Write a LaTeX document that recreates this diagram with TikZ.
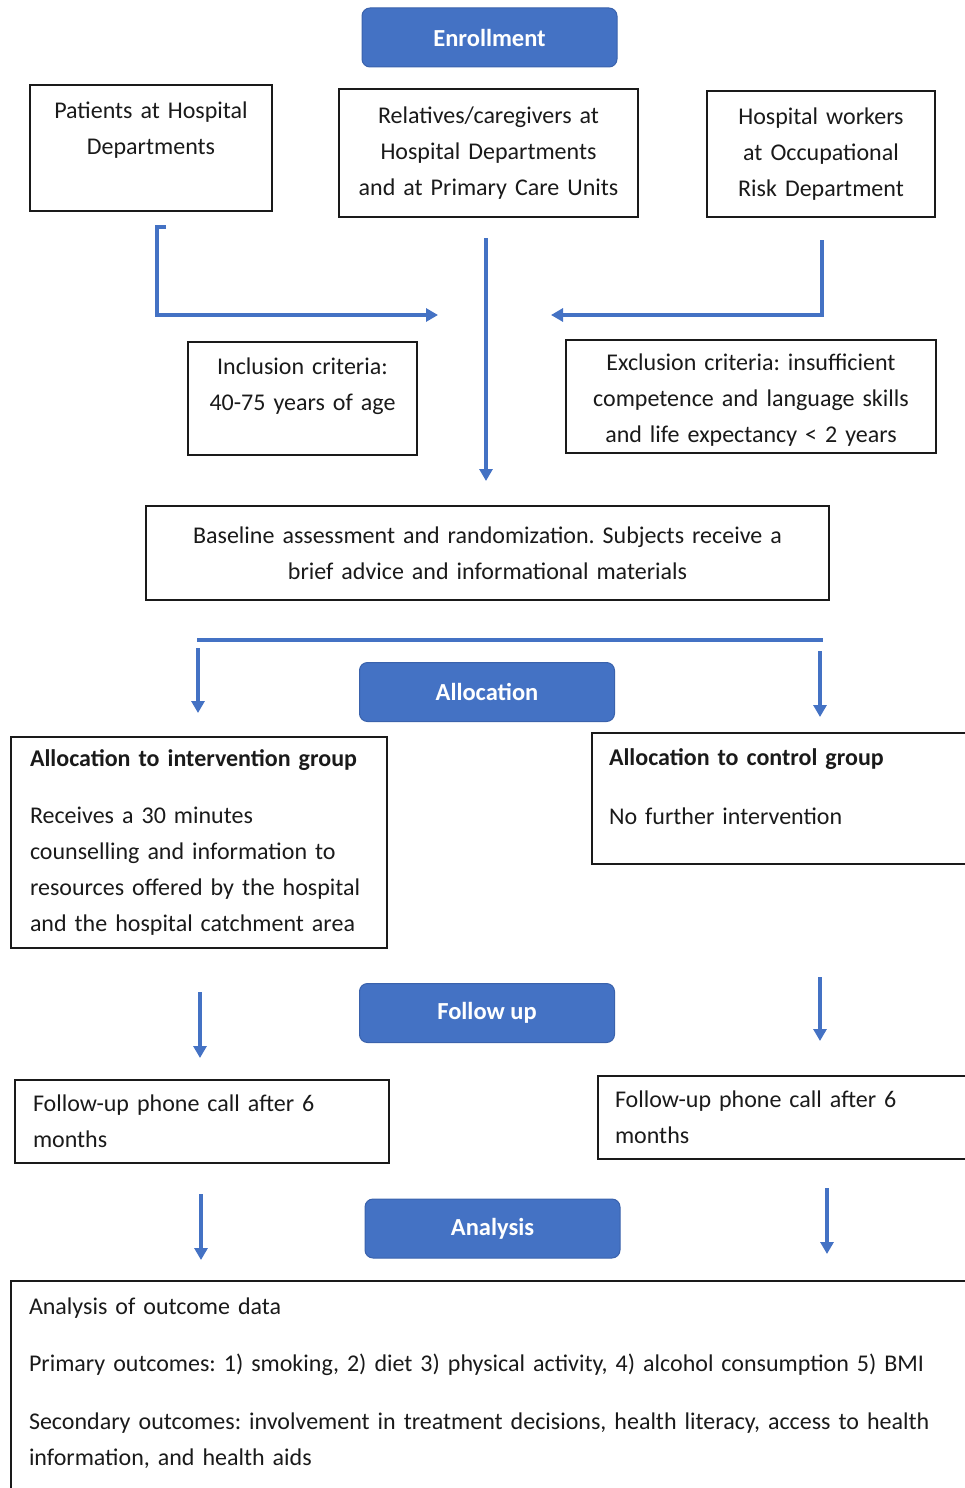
\documentclass[tikz,border=0pt]{standalone}
\usepackage{fontspec}
\setmainfont{Carlito}
\usetikzlibrary{positioning,arrows.meta,calc}
\definecolor{flowblue}{HTML}{4472C4}
\definecolor{phaseedge}{HTML}{3A62AC}
\definecolor{ink}{HTML}{1A1A1A}
\newcommand{\padbelow}[1]{\rule[-#1pt]{0pt}{#1pt}}
\newcommand{\padabove}[1]{\rule{0pt}{#1pt}}
\frenchspacing

\begin{document}
\begin{tikzpicture}[x=1pt, y=-1pt, font=\fontsize{24}{36}\selectfont,
    phase/.style={fill=flowblue, draw=phaseedge, line width=1pt, rounded corners=8pt,
      text=white, font=\fontsize{24.5}{36}\selectfont\bfseries, minimum width=255, minimum height=59},
    infobox/.style={draw=ink, line width=1.6pt, align=center, inner sep=0pt, text=ink},
    leftbox/.style={infobox, align=left},
    flow/.style={draw=flowblue, line width=3.5pt, -{Triangle[length=12pt,width=13pt]}},
    split/.style={draw=flowblue, line width=3.5pt}]
  \useasboundingbox (0,0) rectangle (964,1488);

  % Enrollment
  \node[phase] (enroll) at (489.5,37.5) {Enrollment};
  \node[infobox, minimum width=242, minimum height=126, text width=236] (patients) at (151,148)
    {Patients at Hospital\\Departments\padbelow{40}};
  \node[infobox, minimum width=299, minimum height=128, text width=293] (relatives) at (488.5,153)
    {Relatives/caregivers at\\Hospital Departments\\and at Primary Care Units};
  \node[infobox, minimum width=228, minimum height=126, text width=222] (workers) at (821,154)
    {Hospital workers\\at Occupational\\Risk Department};

  % merging arrows
  \coordinate (pstart) at (166,227);
  \coordinate (pbend) at (157,315);
  \coordinate (ptip) at (438,315);
  \coordinate (rstart) at (486,238);
  \coordinate (rtip) at (486,481);
  \coordinate (wstart) at (822,240);
  \coordinate (wtip) at (551,315);
  \draw[flow] (pstart) -| (pbend) -- (ptip);
  \draw[flow] (rstart) -- (rtip);
  \draw[flow] (wstart) |- (wtip);

  % criteria
  \node[infobox, minimum width=229, minimum height=113, text width=223] (incl) at (302.5,398.5)
    {Inclusion criteria:\\40-75 years of age\padbelow{28}};
  \node[infobox, minimum width=370, minimum height=113, text width=364] (excl) at (751,396.5)
    {\padabove{24}Exclusion criteria: insufficient\\competence and language skills\\and life expectancy < 2 years};
  \node[infobox, minimum width=683, minimum height=94, text width=675] (baseline) at (487.5,553)
    {Baseline assessment and randomization. Subjects receive a\\brief advice and informational materials};

  % Allocation
  \coordinate (sl) at (197,640);
  \coordinate (sr) at (823,640);
  \draw[split] (sl) -- (sr);
  \coordinate (a1) at (198,648);
  \coordinate (a1t) at (198,713);
  \coordinate (a2) at (820,651);
  \coordinate (a2t) at (820,717);
  \draw[flow] (a1) -- (a1t);
  \draw[flow] (a2) -- (a2t);
  \node[phase] (alloc) at (487,692) {Allocation};
  \node[leftbox, minimum width=376, minimum height=211, text width=338] (interv) at (199,842.5)
    {\textbf{Allocation to intervention group}\\[21pt]
     Receives a 30 minutes\\counselling and information to\\resources offered by the hospital\\and the hospital catchment area};
  \node[leftbox, minimum width=408, minimum height=131, text width=374] (control) at (796,798.5)
    {\textbf{Allocation to control group}\\[23pt]
     No further intervention\padbelow{24}};

  % Follow up
  \coordinate (f1) at (200,992);
  \coordinate (f1t) at (200,1058);
  \coordinate (f2) at (820,977);
  \coordinate (f2t) at (820,1041);
  \draw[flow] (f1) -- (f1t);
  \draw[flow] (f2) -- (f2t);
  \node[phase] (follow) at (487,1013) {Follow up};
  \node[leftbox, minimum width=374, minimum height=83, text width=338] (callA) at (202,1121.5)
    {Follow-up phone call after 6\\months};
  \node[leftbox, minimum width=402, minimum height=83, text width=368] (callB) at (799,1117.5)
    {Follow-up phone call after 6\\months};

  % Analysis
  \coordinate (n1) at (201,1194);
  \coordinate (n1t) at (201,1260);
  \coordinate (n2) at (827,1188);
  \coordinate (n2t) at (827,1254);
  \draw[flow] (n1) -- (n1t);
  \draw[flow] (n2) -- (n2t);
  \node[phase] (analysis) at (492.5,1228.5) {Analysis};
  \node[leftbox, minimum width=999, minimum height=239, text width=963] (outcome) at (510.5,1400.5)
    {Analysis of outcome data\\[21pt]
     Primary outcomes: 1) smoking, 2) diet 3) physical activity, 4) alcohol consumption 5) BMI\\[22pt]
     Secondary outcomes: involvement in treatment decisions, health literacy, access to health\\
     information, and health aids\padbelow{38}};
\end{tikzpicture}
\end{document}
